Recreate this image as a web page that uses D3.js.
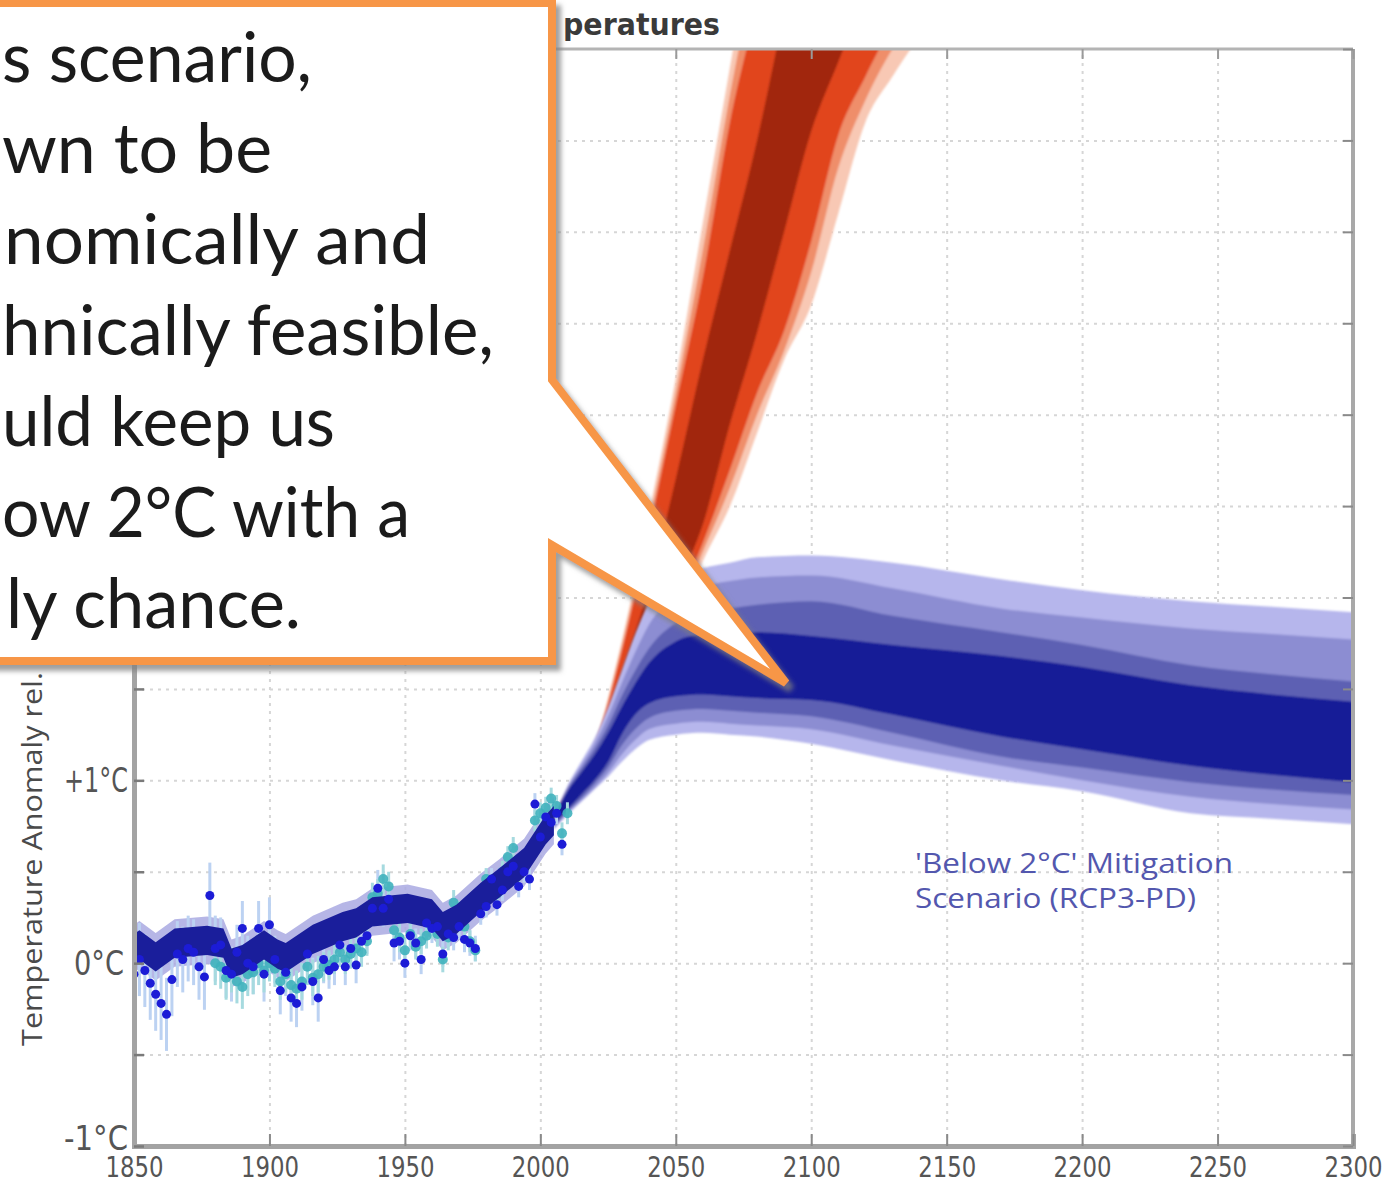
<!DOCTYPE html>
<html><head><meta charset="utf-8">
<script src="https://cdn.jsdelivr.net/npm/d3@7"></script>
<style>body{margin:0;background:#fff;}svg{display:block;}</style>
</head><body>
<svg id="c" width="1390" height="1186"></svg>
<script>
// ---------------- DATA ----------------
const xTickVals = [1850,1900,1950,2000,2050,2100,2150,2200,2250,2300];
const yGridVals = [-1,-0.5,0,0.5,1,1.5,2,2.5,3,3.5,4,4.5,5];
const yLabelVals = [-1,0,1];
const yLabelText = ["-1°C","0°C","+1°C"];

// Red (no-mitigation) plume boundaries, hot side (H) and cool side (C)
const redYears = [2005,2010,2020,2030,2040,2050,2060,2070,2080,2090,2100,2110,2120,2130,2140];
const redH4 = [0.80,0.95,1.20,1.76,2.45,3.20,4.05,4.90,5.75,6.60,7.40,8.20,9.00,9.80,10.6];
const redH3 = [0.80,0.94,1.19,1.73,2.40,3.12,3.90,4.75,5.50,6.30,7.10,7.90,8.70,9.50,10.3];
const redH2 = [0.80,0.93,1.18,1.70,2.35,3.05,3.75,4.60,5.25,6.00,6.80,7.50,8.30,9.00,9.80];
const redH1 = [0.80,0.92,1.16,1.60,2.05,2.65,3.30,3.90,4.50,5.20,5.90,6.60,7.30,8.00,8.70];
const redC1 = [0.80,0.88,1.10,1.38,1.70,2.05,2.40,2.95,3.45,4.00,4.55,4.93,5.30,5.70,6.10];
const redC2 = [0.80,0.86,1.05,1.30,1.62,1.95,2.30,2.70,3.12,3.46,3.95,4.53,4.85,5.15,5.50];
const redC3 = [0.80,0.855,1.02,1.27,1.58,1.90,2.25,2.60,3.00,3.35,3.78,4.35,4.72,5.00,5.20];
const redC4 = [0.80,0.85,1.00,1.25,1.55,1.85,2.20,2.50,2.90,3.30,3.60,4.10,4.60,4.85,5.07];

// Blue 'Below 2°C' (RCP3-PD) plume boundaries, upper (U) and lower (L)
const blueYears = [2005,2010,2015,2020,2025,2030,2035,2040,2050,2060,2070,2080,2100,2130,2170,2200,2240,2270,2300];
const blueU4 = [0.80,0.97,1.10,1.23,1.40,1.60,1.80,1.97,2.11,2.16,2.19,2.22,2.23,2.19,2.10,2.04,1.98,1.95,1.92];
const blueU3 = [0.80,0.96,1.08,1.20,1.35,1.53,1.70,1.85,2.00,2.06,2.09,2.11,2.12,2.05,1.94,1.89,1.83,1.80,1.77];
const blueU2 = [0.80,0.95,1.06,1.17,1.30,1.46,1.60,1.72,1.86,1.92,1.94,1.96,1.98,1.90,1.81,1.74,1.63,1.58,1.54];
const blueU1 = [0.80,0.94,1.04,1.14,1.26,1.40,1.53,1.64,1.76,1.80,1.81,1.81,1.79,1.74,1.68,1.62,1.52,1.47,1.43];
const blueL1 = [0.76,0.84,0.92,1.00,1.10,1.25,1.36,1.42,1.46,1.47,1.46,1.45,1.44,1.36,1.24,1.17,1.08,1.03,0.99];
const blueL2 = [0.75,0.83,0.90,0.98,1.07,1.19,1.28,1.34,1.38,1.39,1.38,1.37,1.35,1.26,1.13,1.07,0.99,0.95,0.92];
const blueL3 = [0.74,0.82,0.89,0.96,1.04,1.14,1.22,1.28,1.31,1.32,1.31,1.30,1.28,1.19,1.08,1.00,0.91,0.87,0.84];
const blueL4 = [0.73,0.81,0.88,0.95,1.02,1.10,1.17,1.22,1.25,1.26,1.25,1.24,1.20,1.11,1.00,0.94,0.82,0.79,0.76];

// Smoothed historical band
const histYears = [1850,1852,1858,1865,1877,1883,1886,1890,1898,1903,1906,1916,1927,1932,1938,1951,1960,1964,1969,1978,1985,1994,2002,2005];
const histMean  = [0.08,0.10,0.035,0.11,0.125,0.11,0.00,0.02,0.10,0.05,0.03,0.13,0.20,0.22,0.28,0.30,0.27,0.20,0.24,0.36,0.44,0.55,0.73,0.78];

// Observations, series A (blue dots)
const obsAYears = [1850,1852,1854,1856,1858,1860,1862,1864,1866,1868,1870,1872,1874,1876,1878,1880,1882,1884,1886,1888,1890,1892,1894,1896,1898,1900,1902,1904,1906,1908,1910,1912,1914,1916,1918,1920,1922,1924,1926,1928,1930,1932,1934,1936,1938,1940,1942,1944,1946,1948,1950,1952,1954,1956,1958,1960,1962,1964,1966,1968,1970,1972,1974,1976,1978,1980,1982,1984,1986,1988,1990,1992,1994,1996,1998,2000,2002,2004,2006,2008];
const obsAValues = [-0.06,0.02,-0.04,-0.11,-0.17,-0.22,-0.28,-0.09,0.05,0.02,0.08,0.06,-0.02,-0.075,0.37,0.08,0.10,-0.04,-0.06,0.06,0.19,0.00,-0.02,0.19,-0.06,0.21,0.02,-0.15,-0.05,-0.19,-0.22,-0.13,0.05,-0.10,-0.19,0.02,-0.04,-0.02,0.10,-0.02,0.08,-0.01,0.12,0.15,0.30,0.41,0.30,0.35,0.11,0.12,0.00,0.15,0.11,0.02,0.22,0.19,0.20,0.05,0.16,0.14,0.20,0.13,0.11,0.08,0.27,0.31,0.46,0.32,0.40,0.50,0.53,0.42,0.50,0.46,0.87,0.69,0.80,0.77,0.82,0.65];
const obsAErr = [0.20,0.20,0.20,0.20,0.20,0.20,0.20,0.20,0.18,0.18,0.18,0.18,0.18,0.18,0.18,0.18,0.15,0.15,0.15,0.15,0.15,0.15,0.15,0.15,0.15,0.15,0.13,0.13,0.13,0.13,0.13,0.13,0.13,0.13,0.13,0.13,0.10,0.10,0.10,0.10,0.10,0.10,0.10,0.10,0.10,0.10,0.10,0.10,0.10,0.10,0.08,0.08,0.08,0.08,0.08,0.08,0.07,0.07,0.07,0.07,0.07,0.07,0.07,0.07,0.06,0.06,0.06,0.06,0.06,0.06,0.06,0.06,0.06,0.06,0.06,0.06,0.06,0.06,0.06,0.06];

// Observations, series B (cyan dots)
const obsBYears = [1880,1882,1884,1886,1888,1890,1892,1894,1896,1898,1900,1902,1904,1906,1908,1910,1912,1914,1916,1918,1920,1922,1924,1926,1928,1930,1932,1934,1936,1938,1940,1942,1944,1946,1948,1950,1952,1954,1956,1958,1960,1962,1964,1966,1968,1970,1972,1974,1976,1978,1980,1982,1984,1986,1988,1990,1992,1994,1996,1998,2000,2002,2004,2006,2008,2010];
const obsBValues = [0.00,-0.02,-0.08,-0.04,-0.10,-0.13,-0.06,-0.05,0.00,-0.04,0.00,-0.03,-0.10,-0.06,-0.12,-0.14,-0.10,-0.02,-0.08,-0.06,-0.02,-0.01,0.02,0.06,0.02,0.05,0.08,0.06,0.12,0.36,0.38,0.46,0.42,0.18,0.14,0.07,0.16,0.09,0.12,0.15,0.20,0.16,0.02,0.14,0.33,0.28,0.20,0.12,0.07,0.34,0.46,0.40,0.38,0.50,0.58,0.63,0.50,0.55,0.60,0.78,0.82,0.85,0.90,0.86,0.71,0.82];
const obsBErr = [0.12,0.12,0.12,0.12,0.12,0.12,0.12,0.12,0.12,0.12,0.10,0.10,0.10,0.10,0.10,0.10,0.10,0.10,0.10,0.10,0.08,0.08,0.08,0.08,0.08,0.08,0.08,0.08,0.08,0.08,0.08,0.08,0.08,0.08,0.08,0.07,0.07,0.07,0.07,0.07,0.07,0.07,0.07,0.07,0.07,0.06,0.06,0.06,0.06,0.06,0.06,0.06,0.06,0.06,0.06,0.06,0.06,0.06,0.06,0.06,0.06,0.06,0.06,0.06,0.06,0.06];

// visible texts (the callout box crops the rest in the original image)
const titleVisible = "peratures";
const yTitle = "Temperature Anomaly rel.";
const legendLines = ["'Below 2°C' Mitigation", "Scenario (RCP3-PD)"];
const calloutLines = ["s scenario,","wn to be","nomically and","hnically feasible,","uld keep us","ow 2°C with a","ly chance."];

// ---------------- LAYOUT ----------------
const W = 1390, H = 1186;
const L = 134, R = 1353, T = 49, B = 1146;
const calloutEnds = [312,272,430,494,335,410,301];
const calloutStarts = [2,2,4,2,2,2,6];

const svg = d3.select("#c");
const x = d3.scaleLinear().domain([1850,2300]).range([L,R]);
const y = d3.scaleLinear().domain([-1,5]).range([B,T]);

const defs = svg.append("defs");
defs.append("clipPath").attr("id","plot").append("rect")
  .attr("x",L).attr("y",T).attr("width",R-L).attr("height",B-T);
const sh = defs.append("filter").attr("id","shadow").attr("x","-10%").attr("y","-10%").attr("width","130%").attr("height","130%");
sh.append("feDropShadow").attr("dx",5).attr("dy",6).attr("stdDeviation",2.5)
  .attr("flood-color","#808080").attr("flood-opacity",0.75);
const soft = defs.append("filter").attr("id","soft");
soft.append("feGaussianBlur").attr("stdDeviation",0.9);

// background
svg.append("rect").attr("width",W).attr("height",H).attr("fill","#fff");

// grid
const gGrid = svg.append("g");
gGrid.append("g").attr("transform",`translate(0,${B})`)
  .call(d3.axisBottom(x).tickValues(xTickVals.slice(1,-1)).tickSize(-(B-T)).tickFormat(""))
  .call(g=>g.select(".domain").remove())
  .selectAll("line").attr("stroke","#d6d6d6").attr("stroke-width",2).attr("stroke-dasharray","3,5");
gGrid.append("g").attr("transform",`translate(${L},0)`)
  .call(d3.axisLeft(y).tickValues(yGridVals.slice(1,-1)).tickSize(-(R-L)).tickFormat(""))
  .call(g=>g.select(".domain").remove())
  .selectAll("line").attr("stroke","#d6d6d6").attr("stroke-width",2).attr("stroke-dasharray","3,5");

const plot = svg.append("g").attr("clip-path","url(#plot)");

function band(years, lo, hi){ return years.map((yr,i)=>({yr, lo:lo[i], hi:hi[i]})); }
const area = d3.area().x(d=>x(d.yr)).y0(d=>y(d.lo)).y1(d=>y(d.hi)).curve(d3.curveMonotoneX);

// red plume
const redLayers = [
  [redC4, redH4, "#f8c8b4"],
  [redC3, redH3, "#ef8e6b"],
  [redC2, redH2, "#e1441d"],
  [redC1, redH1, "#a1280d"]
];
const gRed = plot.append("g").attr("filter","url(#soft)");
redLayers.forEach(([lo,hi,c])=>{
  gRed.append("path").datum(band(redYears,lo,hi)).attr("d",area).attr("fill",c);
});

// blue plume
const blueLayers = [
  [blueL4, blueU4, "#b6b6ec"],
  [blueL3, blueU3, "#8c8dd2"],
  [blueL2, blueU2, "#5d61b3"],
  [blueL1, blueU1, "#141b97"]
];
const gBlue = plot.append("g").attr("filter","url(#soft)");
blueLayers.forEach(([lo,hi,c])=>{
  gBlue.append("path").datum(band(blueYears,lo,hi)).attr("d",area).attr("fill",c);
});

// historical
const histData = histYears.map((yr,i)=>({yr, m:histMean[i]}));
const areaLin = d3.area().x(d=>x(d.yr)).curve(d3.curveLinear);
plot.append("path").datum(histData)
  .attr("d", areaLin.y0(d=>y(d.m-0.13)).y1(d=>y(d.m+0.13)))
  .attr("fill","#a9a9e2").attr("opacity",0.85);

const obsA = obsAYears.map((yr,i)=>({yr, v:obsAValues[i], e:obsAErr[i]}));
const obsB = obsBYears.map((yr,i)=>({yr, v:obsBValues[i], e:obsBErr[i]}));

plot.append("g").selectAll("line").data(obsA).join("line")
  .attr("x1",d=>x(d.yr)).attr("x2",d=>x(d.yr))
  .attr("y1",d=>y(d.v-d.e)).attr("y2",d=>y(d.v+d.e))
  .attr("stroke","#bcd2f2").attr("stroke-width",3);
plot.append("g").selectAll("line").data(obsB).join("line")
  .attr("x1",d=>x(d.yr)).attr("x2",d=>x(d.yr))
  .attr("y1",d=>y(d.v-d.e)).attr("y2",d=>y(d.v+d.e))
  .attr("stroke","#a6dadf").attr("stroke-width",3);

plot.append("g").selectAll("circle").data(obsB).join("circle")
  .attr("cx",d=>x(d.yr)).attr("cy",d=>y(d.v)).attr("r",5)
  .attr("fill","#3fb1bd").attr("opacity",0.9);

plot.append("path").datum(histData)
  .attr("d", areaLin.y0(d=>y(d.m-0.08)).y1(d=>y(d.m+0.08)))
  .attr("fill","#1a1e9b");

plot.append("g").selectAll("circle").data(obsA).join("circle")
  .attr("cx",d=>x(d.yr)).attr("cy",d=>y(d.v)).attr("r",4.5)
  .attr("fill","#1c1cd6");

// frame
svg.append("line").attr("x1",L).attr("x2",R).attr("y1",T).attr("y2",T).attr("stroke","#b4b4b4").attr("stroke-width",3);
svg.append("line").attr("x1",R).attr("x2",R).attr("y1",T).attr("y2",B).attr("stroke","#a8a8a8").attr("stroke-width",4);

// axes
const axB = svg.append("g").attr("transform",`translate(0,${B})`)
  .call(d3.axisBottom(x).tickValues(xTickVals).tickSize(-12).tickFormat(d3.format("d")));
axB.select(".domain").attr("stroke","#a3a3a3").attr("stroke-width",5);
axB.selectAll(".tick line").attr("stroke","#8a8a8a").attr("stroke-width",2);
axB.selectAll(".tick text").attr("fill","#555").attr("font-size",29)
  .attr("font-family","'Liberation Sans Narrow','DejaVu Sans Condensed',sans-serif")
  .attr("y",31).attr("dy",0).attr("textLength",58).attr("lengthAdjust","spacingAndGlyphs");

const axT = svg.append("g").attr("transform",`translate(0,${T})`)
  .call(d3.axisTop(x).tickValues(xTickVals).tickSize(-10).tickFormat(""));
axT.select(".domain").remove();
axT.selectAll(".tick line").attr("stroke","#9a9a9a").attr("stroke-width",2);

const axR = svg.append("g").attr("transform",`translate(${R},0)`)
  .call(d3.axisRight(y).tickValues(yGridVals).tickSize(-10).tickFormat(""));
axR.select(".domain").remove();
axR.selectAll(".tick line").attr("stroke","#8a8a8a").attr("stroke-width",2);

const axL = svg.append("g").attr("transform",`translate(${L},0)`)
  .call(d3.axisLeft(y).tickValues(yGridVals).tickSize(-10).tickFormat(""));
axL.select(".domain").attr("stroke","#a3a3a3").attr("stroke-width",5);
axL.selectAll(".tick line").attr("stroke","#7a7a7a").attr("stroke-width",2.5);

const yLab = svg.append("g").attr("font-family","'Liberation Sans Narrow','DejaVu Sans Condensed',sans-serif")
  .attr("font-size",33).attr("fill","#555").attr("text-anchor","end");
yLabelVals.forEach((v,i)=>{
  const t = yLabelText[i];
  yLab.append("text").attr("x", v===0 ? 124 : 128)
    .attr("y", y(v) + (v===-1 ? -8 : 0)).attr("dy","0.36em")
    .attr("textLength", t.length===3 ? 50 : 64).attr("lengthAdjust","spacingAndGlyphs")
    .text(t);
});

// y title
svg.append("text").attr("transform","translate(42,1046) rotate(-90)")
  .attr("font-family","'Open Sans',sans-serif").attr("font-size",28).attr("fill","#4a4a4a")
  .attr("textLength",374).attr("lengthAdjust","spacingAndGlyphs").text(yTitle);

// title (visible part)
svg.append("text").attr("x",563).attr("y",35)
  .attr("font-family","'DejaVu Sans Condensed',sans-serif").attr("font-weight","bold")
  .attr("font-size",30).attr("fill","#3a3a3a")
  .attr("textLength",157).attr("lengthAdjust","spacingAndGlyphs").text(titleVisible);

// legend text
const lg = svg.append("g").attr("font-family","'Open Sans',sans-serif").attr("font-size",27).attr("fill","#5357ae");
lg.append("text").attr("x",915).attr("y",873).attr("textLength",318).attr("lengthAdjust","spacingAndGlyphs").text(legendLines[0]);
lg.append("text").attr("x",915).attr("y",908).attr("textLength",281).attr("lengthAdjust","spacingAndGlyphs").text(legendLines[1]);

// callout
const cg = svg.append("g");
cg.append("path")
  .attr("d","M-30,3 L552,3 L552,380 L786,683 L552,545 L552,661 L-30,661 Z")
  .attr("fill","#fff").attr("stroke","#f79646").attr("stroke-width",8)
  .attr("stroke-linejoin","miter").attr("filter","url(#shadow)");
const ct = cg.append("g").attr("font-family","Lato,'Open Sans',sans-serif")
  .attr("font-size",70).attr("fill","#1b1b1b");
calloutLines.forEach((s,i)=>{
  ct.append("text").attr("x",calloutStarts[i]).attr("y",82 + i*91)
    .attr("textLength",calloutEnds[i]-calloutStarts[i]).attr("lengthAdjust","spacingAndGlyphs")
    .text(s);
});
</script>
</body></html>
